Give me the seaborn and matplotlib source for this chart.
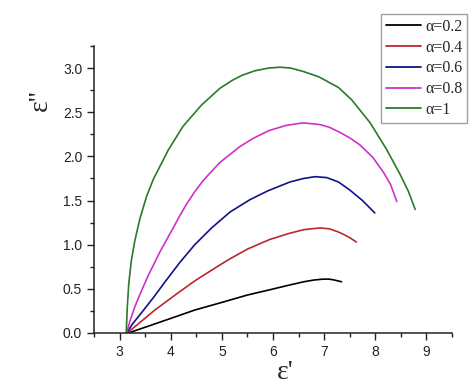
import pandas as pd
import numpy as np
import matplotlib.pyplot as plt
import seaborn as sns
from matplotlib.ticker import MultipleLocator
from matplotlib.lines import Line2D

# Cole-Cole curves: eps' (x) and eps'' (y) per alpha
x_a02 = [3.17, 3.6, 4.0, 4.47, 4.96, 5.5, 5.94, 6.3, 6.6, 6.8, 6.98, 7.1, 7.2, 7.34]
y_a02 = [0.0, 0.085, 0.165, 0.26, 0.34, 0.43, 0.49, 0.54, 0.58, 0.60, 0.61, 0.61, 0.60, 0.58]

x_a04 = [3.15, 3.4, 3.69, 4.11, 4.47, 4.96, 5.16, 5.5, 5.94, 6.33, 6.6, 6.92, 7.1, 7.25, 7.37, 7.5, 7.63]
y_a04 = [0.0, 0.12, 0.26, 0.44, 0.59, 0.77, 0.84, 0.95, 1.06, 1.13, 1.17, 1.19, 1.18, 1.15, 1.12, 1.08, 1.03]

x_a06 = [3.14, 3.25, 3.43, 3.66, 3.89, 4.18, 4.47, 4.8, 5.16, 5.55, 5.9, 6.33, 6.6, 6.82, 7.05, 7.28,
         7.5, 7.75, 7.99]
y_a06 = [0.0, 0.10, 0.23, 0.40, 0.58, 0.80, 1.00, 1.19, 1.37, 1.51, 1.61, 1.71, 1.75, 1.77, 1.76, 1.71,
         1.62, 1.50, 1.36]

x_a08 = [3.14, 3.20, 3.30, 3.43, 3.56, 3.79, 4.02, 4.18, 4.31, 4.47, 4.64, 4.96, 5.35, 5.6, 5.91, 6.25,
         6.59, 6.92, 7.1, 7.28, 7.5, 7.70, 7.95, 8.16, 8.3, 8.42]
y_a08 = [0.0, 0.13, 0.30, 0.48, 0.65, 0.92, 1.16, 1.33, 1.46, 1.60, 1.73, 1.93, 2.11, 2.20, 2.29, 2.35,
         2.38, 2.36, 2.33, 2.28, 2.21, 2.13, 1.99, 1.82, 1.68, 1.49]

x_a1 = [3.13, 3.15, 3.18, 3.23, 3.30, 3.40, 3.53, 3.66, 3.95, 4.24, 4.6, 4.96, 5.2, 5.4, 5.65, 5.91,
        6.14, 6.35, 6.6, 6.9, 7.28, 7.54, 7.9, 8.22, 8.5, 8.65, 8.78]
y_a1 = [0.0, 0.28, 0.56, 0.82, 1.05, 1.30, 1.55, 1.74, 2.07, 2.34, 2.58, 2.77, 2.86, 2.92, 2.97, 3.00,
        3.01, 3.00, 2.96, 2.90, 2.78, 2.64, 2.38, 2.08, 1.78, 1.60, 1.40]

labels = ['α=0.2', 'α=0.4', 'α=0.6', 'α=0.8', 'α=1']
colors = ['#000000', '#b8282e', '#10128a', '#cc33cc', '#2a7a2a']

curves = [(x_a02, y_a02), (x_a04, y_a04), (x_a06, y_a06), (x_a08, y_a08), (x_a1, y_a1)]
frames = []
for lab, (xs, ys) in zip(labels, curves):
    part = pd.DataFrame({'eps1': xs, 'eps2': ys})
    part['alpha'] = lab
    frames.append(part)
df = pd.concat(frames, ignore_index=True)

sns.set_style('ticks')
plt.rcParams['font.family'] = ['Liberation Sans', 'DejaVu Sans']

fig = plt.figure(figsize=(4.74, 3.9), dpi=100)
ax = fig.add_axes([94 / 474, 57 / 390, 358 / 474, 287 / 390])

sns.lineplot(data=df, x='eps1', y='eps2', hue='alpha', sort=False, estimator=None,
             palette=dict(zip(labels, colors)), linewidth=1.2, ax=ax, legend=False)

ax.set_xlim(2.5, 9.5)
ax.set_ylim(0, 3.25)
ax.xaxis.set_major_locator(MultipleLocator(1))
ax.xaxis.set_minor_locator(MultipleLocator(0.5))
ax.yaxis.set_major_locator(MultipleLocator(0.5))
ax.yaxis.set_minor_locator(MultipleLocator(0.25))
ax.yaxis.set_major_formatter(plt.FormatStrFormatter('%.1f'))
ax.tick_params(which='major', direction='out', length=5, width=1, labelsize=10, colors='#222222')
ax.tick_params(which='minor', direction='out', length=3, width=1, colors='#222222')
for s in ['top', 'right']:
    ax.spines[s].set_visible(False)
for s in ['left', 'bottom']:
    ax.spines[s].set_color('#222222')
    ax.spines[s].set_linewidth(1.1)

ax.set_xlabel("ε'", fontsize=20, family=['Liberation Serif', 'DejaVu Sans'])
ax.set_ylabel("ε''", fontsize=20, family=['Liberation Serif', 'DejaVu Sans'])
ax.xaxis.set_label_coords(0.533, -0.095)
ax.yaxis.set_label_coords(-0.115, 0.81)

handles = [Line2D([], [], color=c, lw=1.3) for c in colors]
leg = fig.legend(handles, labels, loc='upper right', bbox_to_anchor=(467 / 474, 1 - 14 / 390),
                 prop={'family': 'Liberation Serif', 'size': 11.5}, frameon=True, fancybox=False,
                 edgecolor='#888888', handlelength=2.2, handletextpad=0.25, borderpad=0.3,
                 labelspacing=0.3, borderaxespad=0)
leg.get_frame().set_linewidth(1.0)

fig.savefig('out.png', dpi=100)
